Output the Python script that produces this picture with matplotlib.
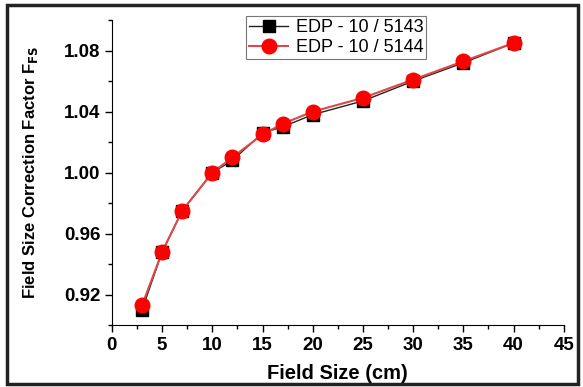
import matplotlib
matplotlib.use("Agg")
import matplotlib.pyplot as plt
from matplotlib.ticker import MultipleLocator
from matplotlib.patches import Rectangle

plt.rcParams['font.family'] = ['Liberation Sans', 'DejaVu Sans']

field_size = [3, 5, 7, 10, 12, 15, 17, 20, 25, 30, 35, 40]
ffs_5143 = [0.910, 0.948, 0.975, 1.000, 1.008, 1.026, 1.030, 1.038, 1.047, 1.060, 1.072, 1.085]
ffs_5144 = [0.913, 0.948, 0.975, 1.000, 1.010, 1.025, 1.032, 1.040, 1.049, 1.061, 1.073, 1.085]
labels = ['EDP - 10 / 5143', 'EDP - 10 / 5144']

fig = plt.figure(figsize=(5.83, 3.87), dpi=100)
ax = fig.add_axes([0.192, 0.160, 0.775, 0.788])

ax.plot(field_size, ffs_5143, color='#222222', linewidth=1.0, marker='s',
        markerfacecolor='black', markeredgecolor='black',
        markersize=8.5, label=labels[0])
ax.plot(field_size, ffs_5144, color='#dd4848', linewidth=1.5, marker='o',
        markerfacecolor='red', markeredgecolor='red', markersize=10.5, label=labels[1])

ax.set_xlim(0, 45)
ax.set_ylim(0.90, 1.10)
ax.xaxis.set_major_locator(MultipleLocator(5))
ax.xaxis.set_minor_locator(MultipleLocator(2.5))
ax.yaxis.set_minor_locator(MultipleLocator(0.02))
ax.set_yticks([0.92, 0.96, 1.00, 1.04, 1.08])
ax.set_yticklabels(['0.92', '0.96', '1.00', '1.04', '1.08'])
ax.tick_params(which='major', length=5, width=1, labelsize=13.5)
ax.tick_params(which='minor', length=3, width=1)
for lab in ax.get_xticklabels() + ax.get_yticklabels():
    lab.set_fontweight('bold')

ax.spines['top'].set_visible(False)
ax.spines['right'].set_visible(False)

ax.set_xlabel('Field Size (cm)', fontsize=14.5, fontweight='bold', labelpad=7)
ax.set_ylabel('Field Size Correction Factor F$_{\\mathbf{FS}}$', fontsize=12,
              fontweight='bold', labelpad=17)

leg = ax.legend(loc='upper center', bbox_to_anchor=(0.496, 1.012), fontsize=13,
                frameon=True, fancybox=False, edgecolor='#555555',
                handlelength=2.2, handletextpad=0.4, borderpad=0.15,
                labelspacing=0.15, borderaxespad=0)
leg.get_frame().set_linewidth(0.8)

fig.patches.append(Rectangle((0.012, 0.008), 0.98, 0.978, transform=fig.transFigure,
                             fill=False, edgecolor='#222222', linewidth=2.5))

fig.savefig('out.png', dpi=100)
